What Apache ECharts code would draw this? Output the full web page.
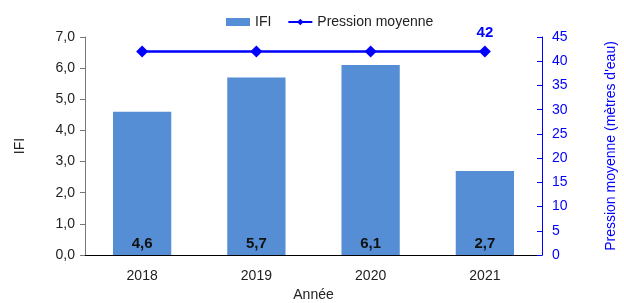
<!DOCTYPE html>
<html>
<head>
<meta charset="utf-8">
<script src="https://cdn.jsdelivr.net/npm/echarts@6/dist/echarts.min.js"></script>
<style>
  html, body { margin: 0; padding: 0; background: #fff; }
  #main { width: 624px; height: 303px; }
</style>
</head>
<body>
<div id="main"></div>
<script>
// données du graphique
var annees = ["2018", "2019", "2020", "2021"];
var ifi = [4.6, 5.7, 6.1, 2.7];
var pression = [42, 42, 42, 42];
var ticksIfi = [0, 7, 1];      // min, max, pas
var ticksPression = [0, 45, 5];

var police = "Liberation Sans, Arial, sans-serif";
var bleu = "#0000ff";

function virgule(v) {
  return v.toFixed(1).replace(".", ",");
}

var myChart = echarts.init(document.getElementById("main"));

var option = {
  animation: false,
  textStyle: { fontFamily: police },
  legend: {
    top: 10,
    left: 221,
    itemGap: 16,
    itemWidth: 24,
    itemHeight: 8,
    textStyle: { fontSize: 14, color: "#222", fontFamily: police },
    data: [
      { name: "IFI", icon: "rect" },
      { name: "Pression moyenne" }
    ]
  },
  // pas de réduction automatique de la zone de tracé
  grid: { left: 85, right: 82, top: 37, bottom: 48, outerBoundsMode: "none", containLabel: false },
  xAxis: {
    type: "category",
    data: annees,
    name: "Année",
    nameLocation: "middle",
    nameGap: 33,
    nameTextStyle: { fontSize: 14, color: "#222" },
    axisLine: { lineStyle: { color: "#000" } },
    axisTick: { show: false },
    axisLabel: { fontSize: 14, color: "#222", margin: 14 }
  },
  yAxis: [
    {
      type: "value",
      min: ticksIfi[0],
      max: ticksIfi[1],
      interval: ticksIfi[2],
      name: "IFI",
      nameLocation: "middle",
      nameGap: 58,
      nameTextStyle: { fontSize: 14, color: "#222" },
      axisLine: { show: true, lineStyle: { color: "#777" } },
      axisTick: { show: true, length: 5, lineStyle: { color: "#777" } },
      axisLabel: { fontSize: 14, color: "#222", margin: 10, formatter: virgule },
      splitLine: { show: false }
    },
    {
      type: "value",
      min: ticksPression[0],
      max: ticksPression[1],
      interval: ticksPression[2],
      position: "right",
      name: "Pression moyenne (mètres d'eau)",
      nameLocation: "middle",
      nameGap: 62,
      nameRotate: 90,
      nameTextStyle: { fontSize: 14, color: bleu },
      axisLine: { show: true, lineStyle: { color: bleu } },
      axisTick: { show: true, inside: true, length: 5, lineStyle: { color: bleu } },
      axisLabel: { fontSize: 14, color: bleu, margin: 10 },
      splitLine: { show: false }
    }
  ],
  series: [
    {
      name: "IFI",
      type: "bar",
      yAxisIndex: 0,
      barWidth: "51%",
      data: ifi,
      itemStyle: { color: "#558ed5" },
      label: {
        show: true,
        position: "insideBottom",
        distance: 4,
        fontSize: 15,
        fontWeight: "bold",
        color: "#111",
        formatter: function (p) { return virgule(p.value); }
      }
    },
    {
      name: "Pression moyenne",
      type: "line",
      yAxisIndex: 1,
      symbol: "diamond",
      symbolSize: 12,
      lineStyle: { color: bleu, width: 2.5 },
      itemStyle: { color: bleu },
      data: pression.map(function (v, i) {
        return {
          value: v,
          label: {
            show: i === pression.length - 1,
            position: "top",
            distance: 5,
            fontSize: 15,
            fontWeight: "bold",
            color: bleu
          }
        };
      })
    }
  ]
};

myChart.setOption(option);
</script>
</body>
</html>
